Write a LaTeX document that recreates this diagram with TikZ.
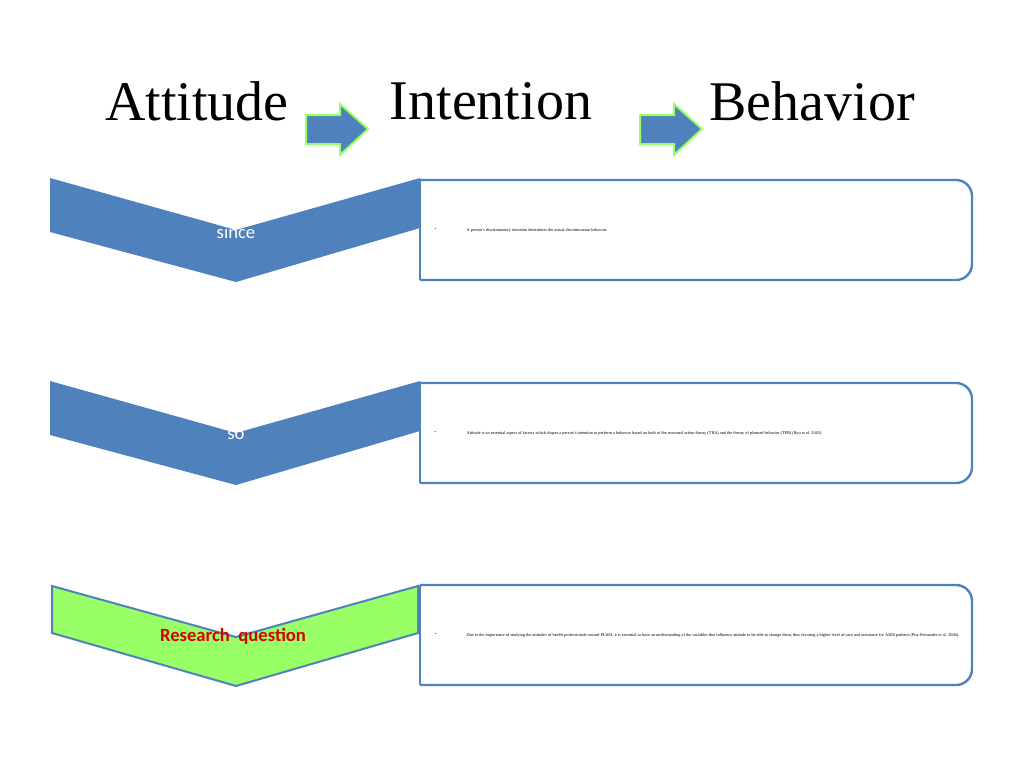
\documentclass[tikz,border=0pt]{standalone}
\usepackage{fontspec}
\setmainfont{Liberation Serif}
\newfontfamily\carl{Carlito}
\begin{document}
\begin{tikzpicture}[x=0.75pt,y=-0.75pt,
 chev/.style={fill=blue!45!cyan!60!black!80, draw=none},
 box/.style={draw=blue!55!cyan!70!black, line width=1.8pt},
 barr/.style={fill=blue!45!cyan!60!black!80, draw=green!70!lime, line width=1.5pt},
 small/.style={font=\fontsize{3.2}{4}\selectfont, anchor=west}]
\definecolor{cb}{RGB}{79,129,189}
\definecolor{gr}{RGB}{153,255,102}
\useasboundingbox (0,0) rectangle (1024,768);
\node[font=\fontsize{42}{48}\selectfont] (t1) at (197,101) {Attitude};
\node[font=\fontsize{42}{48}\selectfont] (t2) at (491,101) {Intention};
\node[font=\fontsize{42}{48}\selectfont] (t3) at (812,101) {Behavior};
\foreach \x in {306,640}{
 \draw[fill=cb,draw=gr,line width=1.5pt] (\x,115)--(\x+34,115)--(\x+34,104)--(\x+62,129)--(\x+34,155)--(\x+34,144)--(\x,144)--cycle;}
\foreach \y/\t/\n in {178/since/a,381/so/b}{
 \fill[cb] (50,\y)--(236,\y+52)--(420,\y)--(420,\y+50)--(236,\y+104)--(50,\y+54)--cycle;
 \node[text=white,font=\carl\fontsize{14}{16}\selectfont] (c\n) at (236,\y+54) {\t};}
\draw[fill=gr,draw=cb,line width=1.5pt] (52,586)--(236,637)--(418,586)--(418,633)--(236,686)--(52,633)--cycle;
\node[text=red!85!black,font=\carl\bfseries\fontsize{14}{16}\selectfont] (cc) at (233,636) {Research\ \ question};
\foreach \y/\n in {180/a,383/b,585/c}{
 \draw[draw=cb,line width=1.8pt,rounded corners=12pt] (420,\y)--(972,\y)--(972,\y+100)--(420,\y+100);
 \draw[draw=cb,line width=1.8pt] (420,\y)--(420,\y+100);
 \node[small] (bl\n) at (430,\y+50) {\textbullet};}
\node[small] (ta) at (462,230) {A person's discriminatory intention determines the actual discrimination behavior.};
\node[small] (tb) at (462,433) {Attitude is an essential aspect of factors which shapes a person's intention to perform a behavior based on both of the reasoned action theory (TRA) and the theory of planned behavior (TPB) (Ryu et al. 2003)};
\node[small] (tc) at (462,635) {Due to the importance of studying the attitudes of health professionals toward PLWH, it is essential to have an understanding of the variables that influence attitude to be able to change them, thus favoring a higher level of care and assistance for AIDS patients (Pita-Fernandes et al. 2004).};
\end{tikzpicture}
\end{document}
